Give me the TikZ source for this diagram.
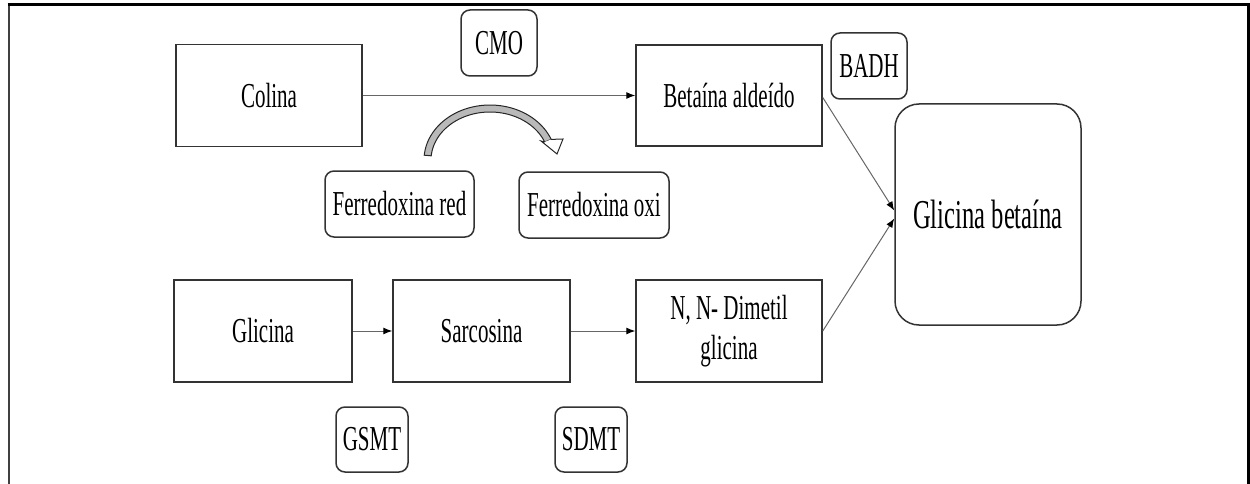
\documentclass[tikz,border=0pt]{standalone}
\usepackage{fontspec}
\setmainfont{Liberation Serif}[FakeStretch=0.6]
\usetikzlibrary{arrows.meta}
\begin{document}
\begin{tikzpicture}[x=1pt,y=-1pt,
  box/.style={draw=black!80,line width=1.5pt,inner sep=0pt,font=\fontsize{35}{40}\selectfont,text=black,align=center},
  sqbox/.style={box,rectangle},
  rbox/.style={box,rounded corners=9pt},
  conn/.style={draw=black!60,line width=1pt,-{Latex[length=9pt,width=7pt,black]}}]
\useasboundingbox (0,0) rectangle (1250,484);
% frame
\draw[black!75,line width=2pt] (8.5,484) -- (8.5,5);
\draw[black,line width=3pt] (7.5,5) -- (1248,5) -- (1248,484);
% nodes
\node[sqbox,minimum width=186pt,minimum height=102pt] (colina) at (269,95.5) {Colina};
\node[sqbox,minimum width=186pt,minimum height=101pt] (bet) at (729,95.5) {Betaína aldeído};
\node[rbox,minimum width=76pt,minimum height=66pt] (cmo) at (499,43) {CMO};
\node[rbox,minimum width=76pt,minimum height=66pt] (badh) at (869,66) {BADH};
\node[rbox,minimum width=149pt,minimum height=66pt] (fred) at (399.5,204) {Ferredoxina red};
\node[rbox,minimum width=150pt,minimum height=66pt] (foxi) at (594,205) {Ferredoxina oxi};
\node[box,rounded corners=24pt,minimum width=186pt,minimum height=221pt,font=\fontsize{41}{46}\selectfont] (gb) at (988,214.5) {Glicina betaína};
\node[sqbox,minimum width=178pt,minimum height=102pt] (gli) at (263,331) {Glicina};
\node[sqbox,minimum width=177pt,minimum height=102pt] (sar) at (481.5,331) {Sarcosina};
\node[sqbox,minimum width=186pt,minimum height=102pt] (dmg) at (729,331) {N, N- Dimetil\\glicina};
\node[rbox,minimum width=72pt,minimum height=65pt] (gsmt) at (372,439.5) {GSMT};
\node[rbox,minimum width=72pt,minimum height=65pt] (sdmt) at (591,439.5) {SDMT};
% connectors
\draw[conn] (colina.east) -- (bet.west);
\draw[conn] (gli.east) -- (sar.west);
\draw[conn] (sar.east) -- (dmg.west);
\coordinate (gbin1) at ([yshift=4pt]gb.west);
\coordinate (gbin2) at ([yshift=-4pt]gb.west);
\draw[conn] ([yshift=-2pt]bet.east) -- (gbin1);
\draw[conn] (dmg.east) -- (gbin2);
% curved block arrow
\fill[gray!55] plot[domain=175:22,samples=50] ({490+66*cos(\x)},{160-55*sin(\x)})
  -- plot[domain=22:175,samples=50] ({490+59*cos(\x)},{160-48*sin(\x)}) -- cycle;
\draw[black!85,line width=1pt] plot[domain=175:22,samples=50] ({490+66*cos(\x)},{160-55*sin(\x)})
  -- plot[domain=22:175,samples=50] ({490+59*cos(\x)},{160-48*sin(\x)}) -- cycle;
\fill[white] ({490+66*cos(22)},{160-55*sin(22)}) -- (563,139) -- (557,154) -- (541,141) -- ({490+59*cos(22)},{160-48*sin(22)}) -- cycle;
\draw[black!85,line width=1pt] ({490+66*cos(22)},{160-55*sin(22)}) -- (563,139) -- (557,154) -- (541,141) -- ({490+59*cos(22)},{160-48*sin(22)});
\end{tikzpicture}
\end{document}
